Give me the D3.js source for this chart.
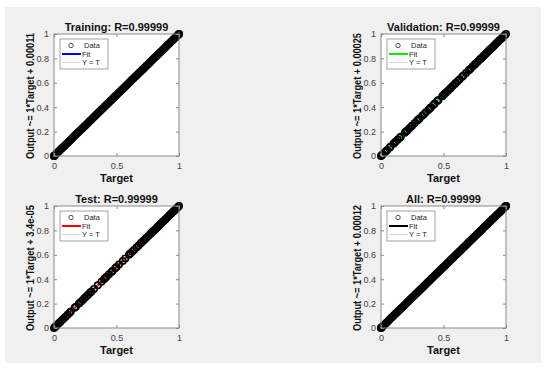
<!DOCTYPE html>
<html>
<head>
<meta charset="utf-8">
<script src="https://cdn.jsdelivr.net/npm/d3@7"></script>
<style>
  body { margin: 0; background: #fff; }
  svg { display: block; font-family: "Liberation Sans", Arial, sans-serif; }
</style>
</head>
<body>
<svg id="chart" width="550" height="370"></svg>
<script>
const WIDTH = 550
const HEIGHT = 370

// panel texts
const panelNames = ["Training", "Validation", "Test", "All"]
const rValues = ["0.99999", "0.99999", "0.99999", "0.99999"]
const fitSlopes = [1, 1, 1, 1]
const fitOffsets = [0.00011, 0.00025, 0.000034, 0.00012]
const offsetLabels = ["0.00011", "0.00025", "3.4e-05", "0.00012"]
const fitColors = ["#0000ff", "#00ee00", "#ff0000", "#000000"]
const xTicks = [0, 0.5, 1]
const yTicks = [0, 0.2, 0.4, 0.6, 0.8, 1]

// target values of the samples (outputs sit on the target, R = 0.99999)
const trainTargets = [0, 0, 0.003, 0.011, 0.022, 0.034, 0.045, 0.057, 0.068, 0.08, 0.091, 0.103, 0.115, 0.126, 0.138,
  0.149, 0.161, 0.172, 0.184, 0.196, 0.207, 0.219, 0.23, 0.242, 0.253, 0.265, 0.277, 0.288, 0.3, 0.311, 0.323,
  0.334, 0.346, 0.358, 0.369, 0.381, 0.392, 0.404, 0.415, 0.427, 0.439, 0.45, 0.462, 0.473, 0.485, 0.496, 0.508,
  0.52, 0.531, 0.543, 0.554, 0.566, 0.577, 0.589, 0.601, 0.612, 0.624, 0.635, 0.647, 0.658, 0.67, 0.682, 0.693,
  0.705, 0.716, 0.728, 0.739, 0.751, 0.763, 0.774, 0.786, 0.797, 0.809, 0.82, 0.832, 0.844, 0.855, 0.867, 0.878,
  0.89, 0.901, 0.913, 0.925, 0.936, 0.948, 0.959, 0.971, 0.982, 0.992, 1, 1]
const valTargets = [0, 0.005, 0.012, 0.03, 0.042, 0.05, 0.068, 0.075, 0.1, 0.108, 0.12, 0.135, 0.15, 0.158, 0.19,
  0.2, 0.21, 0.225, 0.24, 0.25, 0.27, 0.29, 0.3, 0.31, 0.33, 0.345, 0.36, 0.38, 0.39, 0.4, 0.418, 0.43, 0.45, 0.46,
  0.49, 0.5, 0.51, 0.52, 0.535, 0.55, 0.56, 0.575, 0.59, 0.6, 0.615, 0.63, 0.65, 0.66, 0.68, 0.7, 0.71, 0.72, 0.735,
  0.75, 0.76, 0.775, 0.79, 0.8, 0.81, 0.82, 0.83, 0.84, 0.85, 0.86, 0.87, 0.88, 0.89, 0.9, 0.91, 0.92, 0.93, 0.94,
  0.95, 0.96, 0.97, 0.98, 0.99, 1]
const testTargets = [0, 0.008, 0.015, 0.025, 0.038, 0.05, 0.065, 0.08, 0.095, 0.11, 0.125, 0.135, 0.165, 0.175,
  0.2, 0.215, 0.23, 0.245, 0.26, 0.275, 0.29, 0.3, 0.32, 0.35, 0.38, 0.4, 0.41, 0.42, 0.44, 0.46, 0.47, 0.49, 0.5,
  0.52, 0.55, 0.57, 0.6, 0.61, 0.625, 0.64, 0.66, 0.675, 0.69, 0.7, 0.715, 0.73, 0.74, 0.755, 0.77, 0.78, 0.79,
  0.8, 0.81, 0.82, 0.83, 0.84, 0.85, 0.86, 0.87, 0.88, 0.89, 0.9, 0.91, 0.92, 0.93, 0.94, 0.95, 0.96, 0.97, 0.98,
  0.99, 1]
const allTargets = [0, 0, 0.004, 0.012, 0.023, 0.035, 0.046, 0.058, 0.069, 0.081, 0.092, 0.104, 0.116, 0.127, 0.139,
  0.15, 0.162, 0.173, 0.185, 0.197, 0.208, 0.22, 0.231, 0.243, 0.254, 0.266, 0.278, 0.289, 0.301, 0.312, 0.324,
  0.335, 0.347, 0.359, 0.37, 0.382, 0.393, 0.405, 0.416, 0.428, 0.44, 0.451, 0.463, 0.474, 0.486, 0.497, 0.509,
  0.521, 0.532, 0.544, 0.555, 0.567, 0.578, 0.59, 0.602, 0.613, 0.625, 0.636, 0.648, 0.659, 0.671, 0.683, 0.694,
  0.706, 0.717, 0.729, 0.74, 0.752, 0.764, 0.775, 0.787, 0.798, 0.81, 0.821, 0.833, 0.845, 0.856, 0.868, 0.879,
  0.891, 0.902, 0.914, 0.926, 0.937, 0.949, 0.96, 0.972, 0.983, 0.993, 1, 1]
const panelTargets = [trainTargets, valTargets, testTargets, allTargets]

const PANEL = { w: 125, h: 122 }
const panelPos = [[54, 34], [381, 34], [54, 206], [381, 206]]

const svg = d3.select("#chart")

// grey figure background
svg.append("rect")
  .attr("x", 5).attr("y", 7)
  .attr("width", 536).attr("height", 356)
  .attr("fill", "#f0f0f0")

function drawPanel(i) {
  const [left, top] = panelPos[i]
  const x = d3.scaleLinear().domain([0, 1]).range([left, left + PANEL.w])
  const y = d3.scaleLinear().domain([0, 1]).range([top + PANEL.h, top])
  const g = svg.append("g")

  g.append("rect")
    .attr("x", left).attr("y", top)
    .attr("width", PANEL.w).attr("height", PANEL.h)
    .attr("fill", "#fff")

  const clip = "clip" + i
  svg.append("clipPath").attr("id", clip)
    .append("rect")
    .attr("x", left - 5).attr("y", top - 5)
    .attr("width", PANEL.w + 10).attr("height", PANEL.h + 10)

  const plot = g.append("g").attr("clip-path", `url(#${clip})`)

  // fit line then data circles on top
  plot.append("line")
    .attr("x1", x(0)).attr("y1", y(fitOffsets[i]))
    .attr("x2", x(1)).attr("y2", y(fitSlopes[i] + fitOffsets[i]))
    .attr("stroke", fitColors[i])
    .attr("stroke-width", 2)
  plot.append("line")
    .attr("x1", x(0)).attr("y1", y(0))
    .attr("x2", x(1)).attr("y2", y(1))
    .attr("stroke", "#999")
    .attr("stroke-width", 0.6)
    .attr("stroke-dasharray", "1,1")

  plot.selectAll("circle")
    .data(panelTargets[i])
    .enter().append("circle")
    .attr("cx", d => x(d))
    .attr("cy", d => y(d))
    .attr("r", 3.2)
    .attr("fill", "none")
    .attr("stroke", "#000")
    .attr("stroke-width", 1.6)

  // axes with inward ticks, mirrored on top/right
  const axisStyle = sel => {
    sel.select(".domain").remove()
    sel.selectAll("line").attr("stroke", "#8a8a8a")
    sel.selectAll("text").attr("fill", "#404040").attr("font-size", 9)
      .attr("font-family", "Liberation Sans, Arial, sans-serif")
  }
  g.append("g").attr("transform", `translate(0,${top + PANEL.h})`)
    .call(d3.axisBottom(x).tickValues(xTicks).tickSize(-3).tickPadding(7).tickFormat(d3.format("")))
    .call(axisStyle)
  g.append("g").attr("transform", `translate(${left},0)`)
    .call(d3.axisLeft(y).tickValues(yTicks).tickSize(-3).tickPadding(5).tickFormat(d3.format("")))
    .call(axisStyle)
  g.append("g").attr("transform", `translate(0,${top})`)
    .call(d3.axisTop(x).tickValues(xTicks).tickSize(-3).tickFormat(""))
    .call(axisStyle)
  g.append("g").attr("transform", `translate(${left + PANEL.w},0)`)
    .call(d3.axisRight(y).tickValues(yTicks).tickSize(-3).tickFormat(""))
    .call(axisStyle)

  g.append("rect")
    .attr("x", left).attr("y", top)
    .attr("width", PANEL.w).attr("height", PANEL.h)
    .attr("fill", "none")
    .attr("stroke", "#8a8a8a")
    .attr("stroke-width", 1)

  // title and labels
  g.append("text")
    .attr("x", left + PANEL.w / 2).attr("y", top - 3)
    .attr("text-anchor", "middle")
    .attr("font-size", 11).attr("font-weight", "bold").attr("fill", "#111")
    .text(`${panelNames[i]}: R=${rValues[i]}`)
  g.append("text")
    .attr("x", left + PANEL.w / 2).attr("y", top + PANEL.h + 26)
    .attr("text-anchor", "middle")
    .attr("font-size", 11).attr("font-weight", "bold").attr("fill", "#111")
    .text("Target")
  g.append("text")
    .attr("transform", `translate(${left - 20},${top + PANEL.h / 2 + 1}) rotate(-90)`)
    .attr("text-anchor", "middle")
    .attr("font-size", 10.5).attr("font-weight", "bold").attr("fill", "#111")
    .attr("textLength", 126).attr("lengthAdjust", "spacingAndGlyphs")
    .text(`Output ~= ${fitSlopes[i]}*Target + ${offsetLabels[i]}`)

  // legend
  const lg = g.append("g").attr("transform", `translate(${left + 6},${top + 5})`)
  lg.append("rect")
    .attr("width", 48).attr("height", 30)
    .attr("fill", "#fff").attr("stroke", "#8a8a8a").attr("stroke-width", 0.8)
  const rows = ["Data", "Fit", "Y = T"]
  rows.forEach((label, k) => {
    const ry = 6.5 + k * 8.5
    if (k === 0) {
      lg.append("circle").attr("cx", 11).attr("cy", ry).attr("r", 2.2)
        .attr("fill", "none").attr("stroke", "#444").attr("stroke-width", 0.9)
    } else if (k === 1) {
      lg.append("line").attr("x1", 2).attr("x2", 21).attr("y1", ry).attr("y2", ry)
        .attr("stroke", fitColors[i]).attr("stroke-width", 2)
    } else {
      lg.append("line").attr("x1", 2).attr("x2", 21).attr("y1", ry).attr("y2", ry)
        .attr("stroke", "#bbb").attr("stroke-width", 0.6)
    }
    lg.append("text")
      .attr("x", k === 0 ? 24 : 22).attr("y", ry + 2.8)
      .attr("font-size", 7.5).attr("fill", "#222")
      .text(label)
  })
}

panelNames.forEach((d, i) => drawPanel(i))
</script>
</body>
</html>
